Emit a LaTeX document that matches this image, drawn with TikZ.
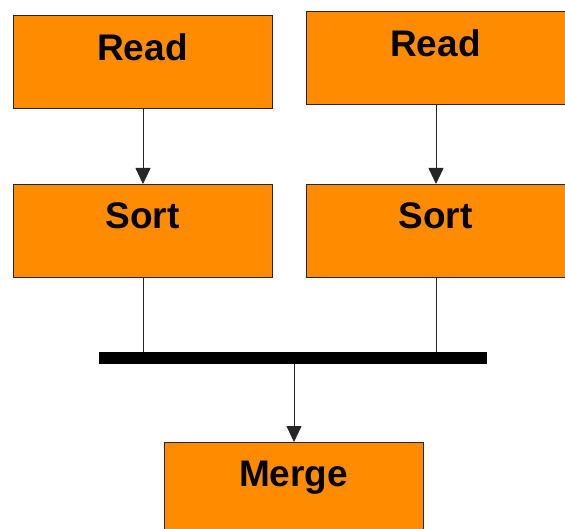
\documentclass[tikz,border=0pt]{standalone}
\usepackage{fontspec}
\setmainfont{Liberation Sans}
\usetikzlibrary{arrows.meta}
\definecolor{boxorange}{HTML}{FF8C00}
\begin{document}
\begin{tikzpicture}[x=1pt,y=-1pt,
  box/.style={draw=black!85,line width=1pt,fill=boxorange,minimum width=259pt,minimum height=93pt,inner sep=0pt,anchor=north west},
  lbl/.style={font=\fontsize{37}{40}\selectfont\bfseries,anchor=base,inner sep=0pt},
  conn/.style={line width=0.8pt,draw=black!85},
  arr/.style={conn,-{Triangle[length=16pt,width=15pt]}}]
\clip (0,0) rectangle (565,529);
\fill[white] (0,0) rectangle (565,529);
% boxes
\node[box] (read1) at (13,15) {};
\node[box] (read2) at (306,11) {};
\node[box] (sort1) at (13,184) {};
\node[box] (sort2) at (306,184) {};
\node[box,minimum height=100pt] (merge) at (164,442) {};
% labels
\node[lbl] (tread1) at (142.5,61) {Read};
\node[lbl] (tread2) at (435.5,57) {Read};
\node[lbl] (tsort1) at (142.5,229) {Sort};
\node[lbl] (tsort2) at (435.5,229) {Sort};
\node[lbl] (tmerge) at (293.5,486) {Merge};
% bar
\node[fill=black,minimum width=388pt,minimum height=12pt,inner sep=0pt,anchor=north west] (bar) at (99,352) {};
% connectors
\draw[arr] (read1.south) -- (sort1.north);
\draw[arr] (read2.south) -- (sort2.north);
\draw[conn] (sort1.south) -- (sort1.south |- bar.north);
\draw[conn] (sort2.south) -- (sort2.south |- bar.north);
\draw[arr] (bar.south -| merge.north) -- (merge.north);
\end{tikzpicture}
\end{document}
